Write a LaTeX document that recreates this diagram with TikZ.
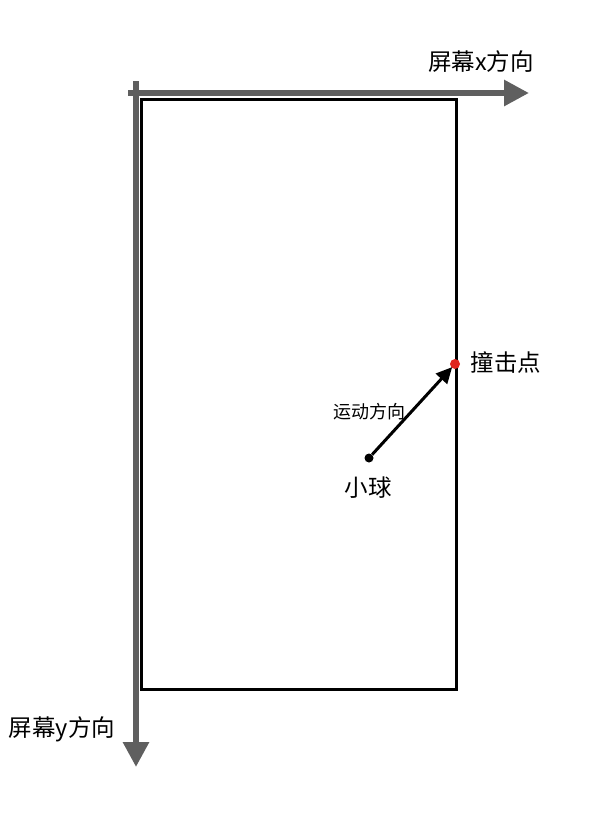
\documentclass[tikz,border=0pt]{standalone}
\usepackage{fontspec}
\setmainfont{Noto Sans CJK SC}
\usepackage{xcolor}
\usetikzlibrary{arrows.meta,positioning}

\definecolor{axisgray}{HTML}{5F5F5F}
\definecolor{hitred}{HTML}{E0251E}

\begin{document}
\begin{tikzpicture}[x=1pt, y=-1pt,
    line cap=butt, line join=miter,
    axis/.style={axisgray, line width=6pt, -{Triangle[length=25pt,width=25pt]}},
    screen/.style={draw=black, line width=3pt},
    dot/.style={circle, inner sep=0pt, minimum size=#1},
    vector/.style={black, line width=3pt, shorten >=-1pt, -{Triangle[length=16pt,width=15pt]}},
    label/.style={font=\fontsize{23.5}{26}\selectfont, inner sep=0pt}]
\useasboundingbox (0,0) rectangle (616,836);

% SCREEN
\draw[screen] (141,99) rectangle (456,689);

% MAIN AXES
\coordinate (xstart) at (128,93);
\coordinate (xend)   at (529,93);
\coordinate (ystart) at (136,81);
\coordinate (yend)   at (136,767);
\draw[axis] (xstart) -- (xend);
\draw[axis] (ystart) -- (yend);
\node[label] (xlabel) at (481,62)  {屏幕x方向};
\node[label] (ylabel) at (62,729)  {屏幕y方向};

% BALL AND HIT POINT
\node[dot=9pt, fill=black]  (ball) at (369,458) {};
\node[dot=10pt, fill=hitred] (hit)  at (455,364) {};
\draw[vector] (ball) -- (hit);

\node[label] (balllabel) at (368,488) {小球};
\node[label] (hitlabel)  at (506,363) {撞击点};
\node[label, font=\fontsize{18}{20}\selectfont] (dirlabel) at (369,412) {运动方向};

\end{tikzpicture}
\end{document}
